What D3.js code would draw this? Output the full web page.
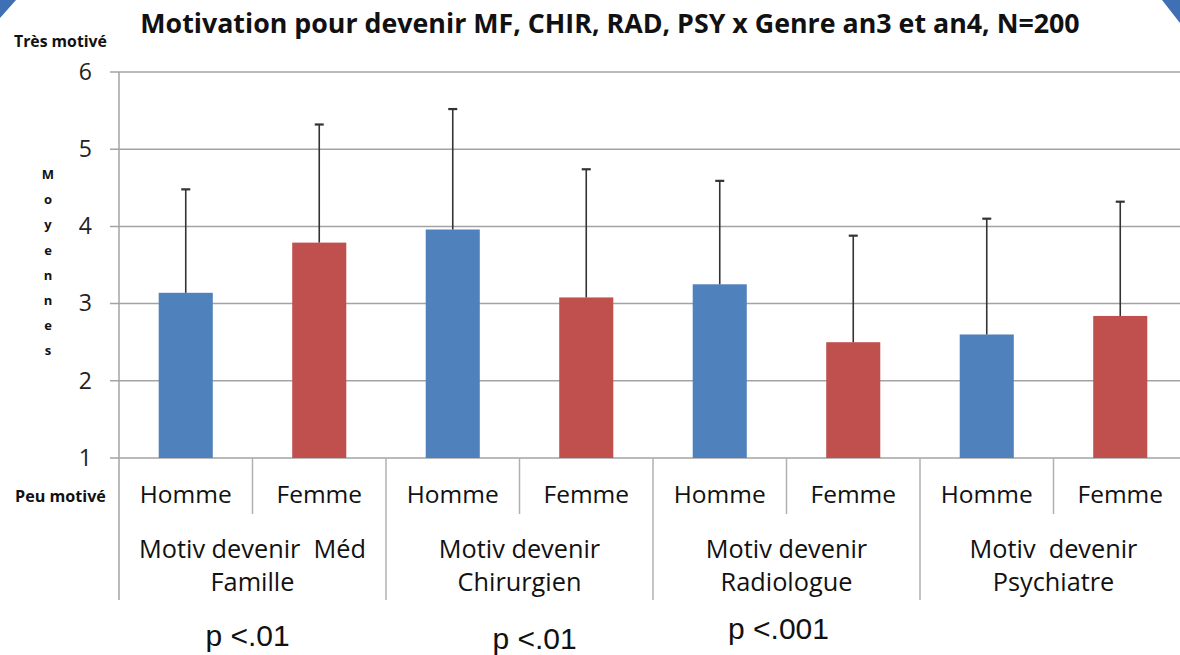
<!DOCTYPE html>
<html><head><meta charset="utf-8">
<script src="https://cdn.jsdelivr.net/npm/d3@7"></script>
<style>html,body{margin:0;padding:0;background:#fff;}svg{display:block;}</style>
</head><body>
<svg id="c" width="1180" height="655"></svg>
<script>
const titleText = "Motivation pour devenir MF, CHIR, RAD, PSY x Genre an3 et an4, N=200";
const groupLine1 = ["Motiv devenir  Méd", "Motiv devenir", "Motiv devenir", "Motiv  devenir"];
const groupLine2 = ["Famille", "Chirurgien", "Radiologue", "Psychiatre"];
const genders = ["Homme", "Femme"];
const hommeMeans = [3.14, 3.96, 3.25, 2.60];
const femmeMeans = [3.79, 3.08, 2.50, 2.84];
const hommeSD = [1.34, 1.56, 1.34, 1.50];
const femmeSD = [1.53, 1.66, 1.38, 1.48];
const pValues = ["p <.01", "p <.01", "p <.001", ""];
const yTicks = [1, 2, 3, 4, 5, 6];
const yTopLabel = "Très motivé", yBottomLabel = "Peu motivé", yTitle = "Moyennes";

const colors = {Homme: "#4F81BD", Femme: "#C0504D"};

const rows = [];
groupLine1.forEach((g, i) => {
  rows.push({key: i + "-Homme", group: i, gender: "Homme", mean: hommeMeans[i], sd: hommeSD[i]});
  rows.push({key: i + "-Femme", group: i, gender: "Femme", mean: femmeMeans[i], sd: femmeSD[i]});
});

const svg = d3.select("#c");
const pLeft = 119, pRight = 1187, pTop = 72, pBottom = 458;
const x = d3.scaleBand().domain(rows.map(d => d.key)).range([pLeft, pRight]).padding(0);
const y = d3.scaleLinear().domain([1, 6]).range([pBottom, pTop]);
const bw = x.bandwidth();
const barW = bw * 0.405;
const font = "'Open Sans', sans-serif";

function measure(txt, size, weight) {
  const n = svg.append("text").attr("font-family", font).attr("font-size", size)
    .attr("font-weight", weight || "normal").style("white-space", "pre").text(txt);
  const l = n.node().getComputedTextLength();
  n.remove();
  return l;
}

// corner decorations
svg.append("path").attr("d", "M0,0L16,0L0,18Z").attr("fill", "#3F6FB4");
svg.append("path").attr("d", "M1162,0L1180,0L1180,23Z").attr("fill", "#3F6FB4");

// gridlines
svg.append("g").selectAll("line").data(yTicks).join("line")
  .attr("x1", pLeft - 9).attr("x2", pRight)
  .attr("y1", d => y(d)).attr("y2", d => y(d))
  .attr("stroke", "#a3a3a3").attr("stroke-width", 1.5);

// y axis
const yAxis = d3.axisLeft(y).tickValues(yTicks).tickSize(0).tickPadding(27).tickFormat(d3.format("d"));
const ga = svg.append("g").attr("transform", `translate(${pLeft},0)`).call(yAxis);
ga.select(".domain").remove();
ga.selectAll("text").attr("font-family", font).attr("font-size", 23).attr("fill", "#222");

// bars
svg.append("g").selectAll("rect").data(rows).join("rect")
  .attr("x", d => x(d.key) + (bw - barW) / 2)
  .attr("width", barW)
  .attr("y", d => y(d.mean))
  .attr("height", d => y(1) - y(d.mean))
  .attr("fill", d => colors[d.gender]);

// error bars (upper only)
const eg = svg.append("g").attr("stroke", "#333").attr("stroke-width", 1.6);
eg.selectAll("line.v").data(rows).join("line").attr("class", "v")
  .attr("x1", d => x(d.key) + bw / 2).attr("x2", d => x(d.key) + bw / 2)
  .attr("y1", d => y(d.mean)).attr("y2", d => y(d.mean + d.sd));
eg.selectAll("line.h").data(rows).join("line").attr("class", "h")
  .attr("x1", d => x(d.key) + bw / 2 - 4.5).attr("x2", d => x(d.key) + bw / 2 + 4.5)
  .attr("y1", d => y(d.mean + d.sd)).attr("y2", d => y(d.mean + d.sd))
  .attr("stroke-width", 2.2);

// y axis line
svg.append("line").attr("x1", pLeft).attr("x2", pLeft).attr("y1", pTop).attr("y2", 600)
  .attr("stroke", "#a3a3a3").attr("stroke-width", 1.5);

// category dividers
const gx = i => x(i + "-Homme");
svg.append("g").selectAll("line").data(d3.range(1, groupLine1.length)).join("line")
  .attr("x1", gx).attr("x2", gx).attr("y1", pBottom).attr("y2", 600)
  .attr("stroke", "#b0b0b0").attr("stroke-width", 1.5);
svg.append("g").selectAll("line").data(d3.range(groupLine1.length)).join("line")
  .attr("x1", i => x(i + "-Femme")).attr("x2", i => x(i + "-Femme")).attr("y1", pBottom).attr("y2", 514)
  .attr("stroke", "#b0b0b0").attr("stroke-width", 1.5);

// gender labels (sized to match reference width)
const genderSize = 21 * 92 / measure("Homme", 21);
svg.append("g").selectAll("text").data(rows).join("text")
  .attr("x", d => x(d.key) + bw / 2).attr("y", 503)
  .attr("text-anchor", "middle").attr("font-family", font).attr("font-size", genderSize).attr("fill", "#111")
  .text(d => d.gender);

// group labels
const groupSize = 21 * 227 / measure(groupLine1[0], 21);
const gc = i => x(i + "-Homme") + bw;
svg.append("g").selectAll("text").data(groupLine1).join("text")
  .attr("x", (d, i) => gc(i)).attr("y", 558)
  .attr("text-anchor", "middle").attr("font-family", font).attr("font-size", groupSize).attr("fill", "#111")
  .style("white-space", "pre")
  .text(d => d);
svg.append("g").selectAll("text").data(groupLine2).join("text")
  .attr("x", (d, i) => gc(i)).attr("y", 591)
  .attr("text-anchor", "middle").attr("font-family", font).attr("font-size", groupSize).attr("fill", "#111")
  .text(d => d);

// p values
const pDx = [-5, 15, -8, 0], pY = [646, 649, 639, 0];
svg.append("g").selectAll("text").data(pValues).join("text")
  .attr("x", (d, i) => gc(i) + pDx[i]).attr("y", (d, i) => pY[i])
  .attr("text-anchor", "middle").attr("font-family", "'Liberation Sans', Arial, sans-serif")
  .attr("font-size", 30).attr("fill", "#111")
  .text(d => d);

// title
svg.append("text").attr("x", 610).attr("y", 33).attr("text-anchor", "middle")
  .attr("font-family", font).attr("font-weight", "bold")
  .attr("font-size", 22 * 940 / measure(titleText, 22, "bold")).attr("fill", "#111")
  .text(titleText);

// side labels
svg.append("text").attr("x", 14).attr("y", 47).attr("font-family", font).attr("font-weight", "bold")
  .attr("font-size", 13 * 93 / measure(yTopLabel, 13, "bold")).attr("fill", "#111").text(yTopLabel);
svg.append("text").attr("x", 15).attr("y", 502).attr("font-family", font).attr("font-weight", "bold")
  .attr("font-size", 13 * 91 / measure(yBottomLabel, 13, "bold")).attr("fill", "#111").text(yBottomLabel);

svg.append("g").selectAll("text").data(yTitle.split("")).join("text")
  .attr("x", 48).attr("y", (d, i) => 179 + i * 25.2)
  .attr("text-anchor", "middle").attr("font-family", font).attr("font-weight", "bold")
  .attr("font-size", 13).attr("fill", "#111").text(d => d);
</script>
</body></html>
